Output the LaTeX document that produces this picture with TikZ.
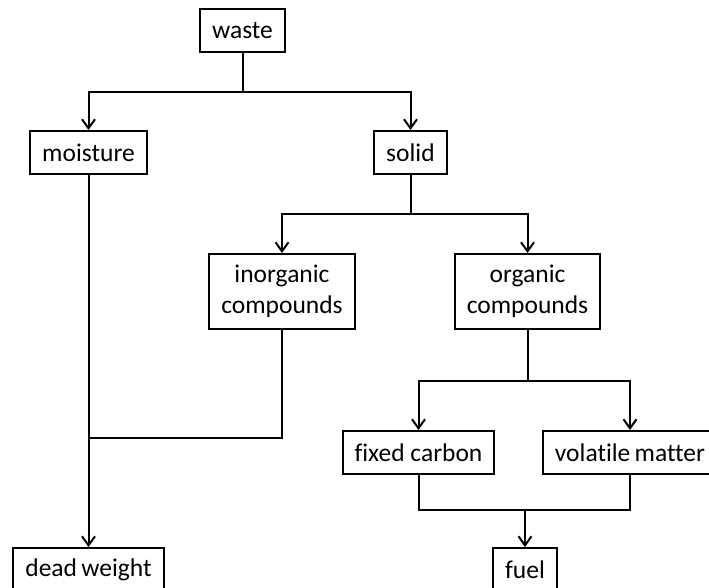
\documentclass[tikz,border=0pt]{standalone}
\usepackage{fontspec}
\setmainfont[Ligatures=NoCommon]{Carlito}
\usetikzlibrary{arrows.meta, positioning}

\begin{document}
\begin{tikzpicture}[x=1pt,y=1pt,
  box/.style={draw=drawColor, line width=2pt, text=drawColor, inner xsep=12pt, inner ysep=0pt,
    minimum height=43pt, align=center, font=\fontsize{25.5}{30.5}\selectfont},
  twobox/.style={box, minimum height=75pt},
  link/.style={draw=drawColor, line width=2pt},
  arrow/.style={link, -{Straight Barb[length=9pt,width=13pt,line width=2pt]}}]
\definecolor[named]{drawColor}{rgb}{0.00,0.00,0.00}
\definecolor[named]{fillColor}{rgb}{1.00,1.00,1.00}
\path[use as bounding box,fill=fillColor] (0,0) rectangle (709,588);
\clip (0,0) rectangle (709,588);

\node[box] (waste) at (242.5,557.5) {waste};
\node[box] (moisture) at (88.5,435.5) {moisture};
\node[box] (solid) at (410.5,435.5) {solid};
\node[twobox] (inorganic) at (282.0,296.5) {inorganic\\compounds};
\node[twobox] (organic) at (527.5,296.5) {organic\\compounds};
\node[box] (fixedcarbon) at (418.5,135.5) {fixed carbon};
\node[box] (volatile) at (630.0,135.5) {volatile\,matter};
\node[box] (deadweight) at (88.5,18.5) {dead\,weight};
\node[box] (fuel) at (525.0,18.5) {fuel};

\coordinate (splitWaste) at (242.5,496);
\coordinate (splitSolid) at (410.5,374);
\coordinate (splitOrganic) at (527.5,207);
\coordinate (joinDead) at (88.5,150);
\coordinate (joinFuel) at (525.0,78);

\draw[link] (waste) -- (splitWaste);
\draw[arrow] (splitWaste) -| (moisture.north);
\draw[arrow] (splitWaste) -| (solid.north);
\draw[link] (solid) -- (splitSolid);
\draw[arrow] (splitSolid) -| (inorganic.north);
\draw[arrow] (splitSolid) -| (organic.north);
\draw[link] (organic) -- (splitOrganic);
\draw[arrow] (splitOrganic) -| (fixedcarbon.north);
\draw[arrow] (splitOrganic) -| (volatile.north);
\draw[arrow] (moisture) -- (deadweight);
\draw[link] (inorganic.south) |- (joinDead);
\draw[link] (fixedcarbon.south) |- (joinFuel);
\draw[link] (volatile.south) |- (joinFuel);
\draw[arrow] (joinFuel) -- (fuel);
\end{tikzpicture}
\end{document}
